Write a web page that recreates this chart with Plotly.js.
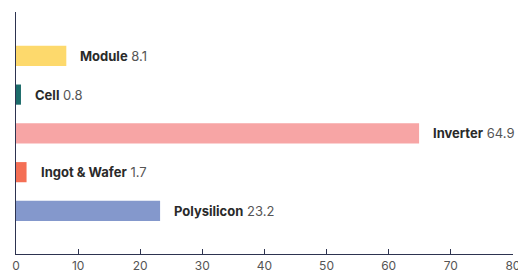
<!DOCTYPE html>
<html><head><meta charset="utf-8">
<script src="https://cdn.plot.ly/plotly-3.0.1.min.js"></script>
<style>body{margin:0;background:#fff}#c{width:518px;height:274px}</style>
</head><body><div id="c"></div>
<script>
const categories = ["Polysilicon", "Ingot & Wafer", "Inverter", "Cell", "Module"];
const values = [23.2, 1.7, 64.9, 0.8, 8.1];
const colors = ["#8498cc", "#f46f55", "#f7a5a5", "#1b6b6a", "#fdd96c"];
const xTicks = [0, 10, 20, 30, 40, 50, 60, 70, 80];

const trace = {
  type: "bar", orientation: "h",
  y: categories, x: values,
  marker: {color: colors},
  width: 0.52, hoverinfo: "none"
};
const annotations = categories.map((c, i) => ({
  x: values[i], y: c, xref: "x", yref: "y",
  xanchor: "left", yanchor: "middle", xshift: 12, showarrow: false,
  text: "<b>" + c + "</b> <span style='color:#555'>" + values[i] + "</span>",
  font: {family: "Inter, 'Open Sans', sans-serif", size: 13, color: "#2a2a2a"}
}));
const layout = {
  width: 518, height: 274,
  margin: {l: 16, r: 5, t: 12, b: 20},
  paper_bgcolor: "#fff", plot_bgcolor: "#fff",
  showlegend: false,
  xaxis: {
    range: [0, 80.02], tickvals: xTicks, ticktext: xTicks.map(String), ticks: "inside", ticklen: 5, tickcolor: "#2d3350",
    showline: true, linecolor: "#2d3350", linewidth: 1, showgrid: false, zeroline: false,
    ticklabelstandoff: 1, ticklabeloverflow: "allow",
    tickfont: {family: "Inter, sans-serif", size: 12, color: "#555"}
  },
  yaxis: {
    type: "category", categoryorder: "array", categoryarray: categories,
    range: [-1.11, 5.13], showticklabels: false, ticks: "",
    showline: true, linecolor: "#2d3350", linewidth: 1, showgrid: false, zeroline: false
  },
  annotations: annotations
};
Plotly.newPlot("c", [trace], layout, {displayModeBar: false, staticPlot: true});
</script></body></html>
